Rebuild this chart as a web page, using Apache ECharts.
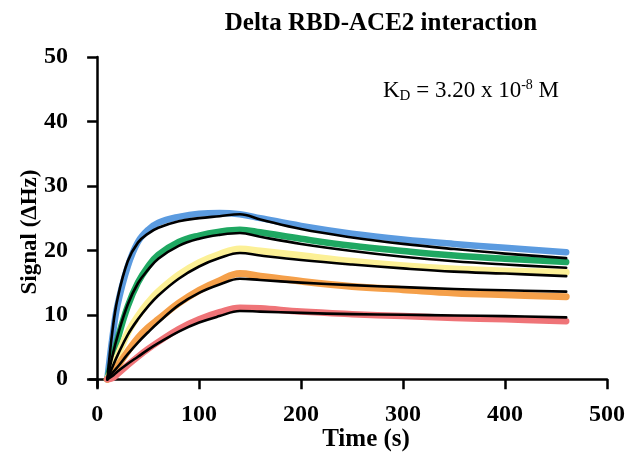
<!DOCTYPE html>
<html>
<head>
<meta charset="utf-8">
<script src="https://cdn.jsdelivr.net/npm/echarts@6/dist/echarts.min.js"></script>
<style>html,body{margin:0;padding:0;background:#fff}#c{width:642px;height:456px}</style>
</head>
<body>
<div id="c"></div>
<script>
var times = [10,15,20,30,40,50,60,80,100,120,140,160,200,250,300,350,400,460];
var blueData   = [0,6.5,11.5,17.5,21.3,23.2,24.3,25.2,25.7,25.8,25.6,25,23.8,22.6,21.7,21,20.4,19.7];
var greenData  = [0,3.2,6.2,11.3,15,17.5,19.3,21.3,22.3,22.9,23.2,22.8,21.8,20.7,19.9,19.2,18.7,18.2];
var yellowData = [0,1.7,3.6,7.2,9.8,11.9,13.6,16.2,18.1,19.4,20.2,19.9,19.2,18.3,17.6,17.1,16.8,16.6];
var orangeData = [0,0.8,2,4.3,6.4,8,9.3,11.8,13.8,15.3,16.4,16,15.2,14.4,13.9,13.4,13.1,12.8];
var redData    = [0,0.2,0.8,2.2,3.5,4.7,5.8,7.8,9.3,10.4,11.1,11,10.5,10.1,9.8,9.5,9.3,9.0];
var fit1 = [0,7.5,12.5,18.3,21.2,22.6,23.5,24.5,25,25.3,25.6,24.8,23.3,22,21,20.2,19.5,18.8];
var fit2 = [0,3.6,6.7,11.6,14.9,17,18.7,20.7,21.8,22.4,22.7,22.1,21,19.9,19,18.3,17.8,17.3];
var fit3 = [0,1.9,3.7,6.9,9.3,11.3,13,15.6,17.5,18.8,19.6,19.2,18.5,17.8,17.2,16.7,16.4,16];
var fit4 = [0,1,1.9,3.9,5.7,7.3,8.8,11.5,13.4,14.7,15.6,15.4,15,14.6,14.3,14,13.8,13.6];
var fit5 = [0,0.5,1.2,2.4,3.5,4.6,5.6,7.4,8.8,9.8,10.6,10.5,10.3,10.1,10,9.9,9.8,9.6];
var xTicks = [0,100,200,300,400,500];
var yTicks = [0,10,20,30,40,50];

function pts(v){ return times.map(function(t,i){ return [t, v[i]]; }); }
function ser(v, color, w){
  return {type:'line', data:pts(v), symbol:'none', smooth:0.4,
    lineStyle:{color:color, width:w, cap:'round', join:'round'}, silent:true};
}
var chart = echarts.init(document.getElementById('c'));
var font = '"Liberation Serif", "DejaVu Serif", serif';
chart.setOption({
  animation:false,
  title:{text:'Delta RBD-ACE2 interaction', left:376, top:6, textAlign:'center',
    textStyle:{fontFamily:font, fontWeight:'bold', fontSize:25, color:'#000'}},
  grid:{left:90, right:35, top:57, bottom:69},
  xAxis:{type:'value', min:-7, max:500,
    axisLine:{onZero:true, lineStyle:{color:'#000', width:2.5}},
    axisTick:{customValues:xTicks, length:10, lineStyle:{color:'#000', width:2.5}},
    axisLabel:{customValues:xTicks, fontFamily:font, fontWeight:'bold', fontSize:24, color:'#000', margin:16},
    splitLine:{show:false}},
  yAxis:{type:'value', min:-1.2, max:50,
    axisLine:{onZero:true, lineStyle:{color:'#000', width:2.5}},
    axisTick:{customValues:yTicks, length:10, lineStyle:{color:'#000', width:2.5}},
    axisLabel:{customValues:yTicks, fontFamily:font, fontWeight:'bold', fontSize:24, color:'#000', margin:22},
    splitLine:{show:false}},
  graphic:[
    {type:'text', x:30, y:232, rotation:Math.PI/2, style:{
      text:'Signal (\u0394Hz)', font:'bold 23px ' + font, fill:'#000', align:'center', verticalAlign:'middle'}},
    {type:'text', x:366, y:440, style:{
      text:'Time (s)', font:'bold 25px ' + font, fill:'#000', align:'center', verticalAlign:'middle'}},
    {type:'text', left:383, top:78, style:{
    text:'{m|K}{s|D}{m| = 3.20 x 10}{p|-8}{m| M}',
    rich:{m:{fontFamily:font, fontSize:23, color:'#000'},
          s:{fontFamily:font, fontSize:15, color:'#000', padding:[10,0,0,0]},
          p:{fontFamily:font, fontSize:14, color:'#000', padding:[0,0,12,0]}}
  }}],
  series:[
    ser(blueData,'#5b9be0',6.5),
    ser(greenData,'#1fa862',6.5),
    ser(yellowData,'#fcf096',7),
    ser(orangeData,'#f5a04a',7),
    ser(redData,'#ef7478',6.5),
    ser(fit1,'#000',2.6),
    ser(fit2,'#000',2.6),
    ser(fit3,'#000',2.6),
    ser(fit4,'#000',2.6),
    ser(fit5,'#000',2.6)
  ]
});
</script>
</body>
</html>
